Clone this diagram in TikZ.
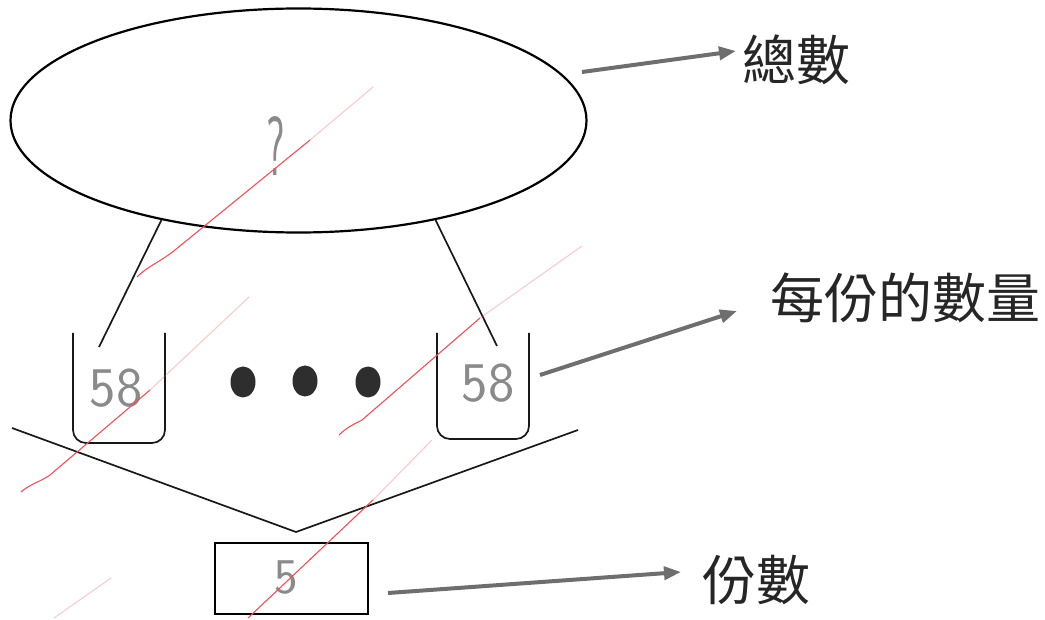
\documentclass[tikz,border=0pt]{standalone}
\usepackage{fontspec}
\newfontfamily\cjk{Noto Sans CJK TC}
\usetikzlibrary{shapes.geometric,arrows.meta}
\definecolor{arrowgray}{HTML}{6E6E6E}
\definecolor{handgray}{HTML}{8A8A8A}
\definecolor{dotc}{HTML}{2E2E2E}
\definecolor{redpen}{HTML}{F0505A}
\begin{document}
\begin{tikzpicture}[x=1pt,y=-1pt,
  line/.style={line width=1.7pt, black!90},
  ptr/.style={line width=4pt, draw=arrowgray, -{Triangle[length=17pt,width=13pt,fill=arrowgray]}},
  hand/.style={text=handgray, font=\sffamily\fontsize{56}{56}\selectfont, inner sep=0},
  label/.style={font=\cjk\fontsize{54}{54}\selectfont, text=black!85, anchor=west, inner sep=0},
  dot/.style={fill=dotc, ellipse, minimum width=25pt, minimum height=31pt, inner sep=0},
  redmark/.style={draw=redpen, line width=1.1pt},
  faintred/.style={draw=redpen, line width=0.9pt, opacity=0.35}]
\useasboundingbox (0,0) rectangle (1045,620);

% total ellipse
\node[draw, ellipse, line width=2.2pt, minimum width=576pt, minimum height=224pt, inner sep=0] (total) at (298.5,120.5) {};
\node[hand] (q) at (276,146) {\scalebox{0.5}[1]{\fontsize{84}{84}\selectfont ?}};

% cups
\draw[line, rounded corners=13pt] (73,333) -- (73,443) -- (165,443) -- (165,333);
\draw[line, rounded corners=13pt] (437,333) -- (437,439) -- (529,439) -- (529,333);
\node[hand] (a1) at (116,388) {58};
\node[hand] (a2) at (488,383) {58};
\coordinate (c1) at (99,347);
\coordinate (c2) at (497,346);
\draw[line] (total.216) -- (c1);
\draw[line] (total.324) -- (c2);

% dots
\node[dot] (d1) at (243,382) {};
\node[dot] (d2) at (305,381) {};
\node[dot] (d3) at (368,382) {};

% V shape
\coordinate (vl) at (12,428);
\coordinate (vapex) at (296,532);
\coordinate (vr) at (578,430);
\draw[line] (vl) -- (vapex) -- (vr);

% parts box
\node[draw, line width=2pt, minimum width=153pt, minimum height=71pt, inner sep=0] (parts) at (291.5,578.5) {};
\node[hand, font=\sffamily\fontsize{50}{50}\selectfont] (five) at (286,577) {5};

% labels and arrows
\node[label] (L1) at (742,60) {總數};
\node[label] (L2) at (770,298) {每份的數量};
\node[label] (L3) at (702,580) {份數};
\coordinate (s1) at (582,72);
\coordinate (e1) at (736,51);
\coordinate (s2) at (540,375);
\coordinate (e2) at (737,311);
\coordinate (s3) at (388,593);
\coordinate (e3) at (681,572);
\draw[ptr] (s1) -- (e1);
\draw[ptr] (s2) -- (e2);
\draw[ptr] (s3) -- (e3);

% red pen marks
\draw[redmark] (137,277) .. controls (148,266) and (160,262) .. (175,250) -- (310,140);
\draw[faintred] (310,140) -- (373,87);
\draw[redmark] (21,492) .. controls (30,484) and (40,482) .. (50,475) -- (150,390);
\draw[faintred] (150,390) -- (249,297);
\draw[redmark] (339,435) .. controls (346,428) and (354,424) .. (362,420) -- (480,318);
\draw[faintred] (480,318) -- (582,246);
\draw[redmark] (248,618) -- (373,500);
\draw[faintred] (373,500) -- (432,440);
\draw[faintred] (54,618) -- (111,578);
\end{tikzpicture}
\end{document}
